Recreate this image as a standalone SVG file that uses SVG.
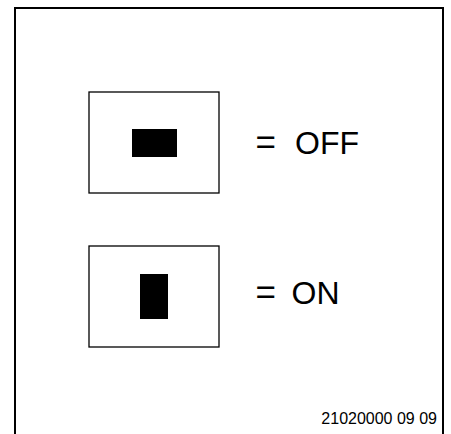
<svg xmlns="http://www.w3.org/2000/svg" width="451" height="434" viewBox="0 0 451 434">
<style>
.box{fill:#fff;stroke:#000;stroke-width:1.3}
.lbl{font-family:"Liberation Sans",Arial,sans-serif;font-size:32px;fill:#000}
.eq{font-family:"Liberation Sans",Arial,sans-serif;font-size:35px;fill:#000}
.ref{font-family:"Liberation Sans",Arial,sans-serif;font-size:16px;fill:#000}
</style>
<rect width="451" height="434" fill="#fff"/>
<g id="frame">
<path d="M15,434 V8 H443 V434" fill="none" stroke="#000" stroke-width="2"/>
</g>
<g id="off">
<rect class="box" x="89" y="92" width="130" height="101"/>
<rect x="132" y="129" width="45" height="28" fill="#000"/>
<text class="eq" x="255.5" y="154">=</text>
<text class="lbl" x="295" y="154">OFF</text>
</g>
<g id="on">
<rect class="box" x="89" y="246" width="130" height="101"/>
<rect x="140" y="274" width="28" height="45" fill="#000"/>
<text class="eq" x="255.5" y="304">=</text>
<text class="lbl" x="291.5" y="304">ON</text>
</g>
<g id="connectors"></g>
<text class="ref" x="437" y="424" text-anchor="end">21020000 09 09</text>
</svg>
